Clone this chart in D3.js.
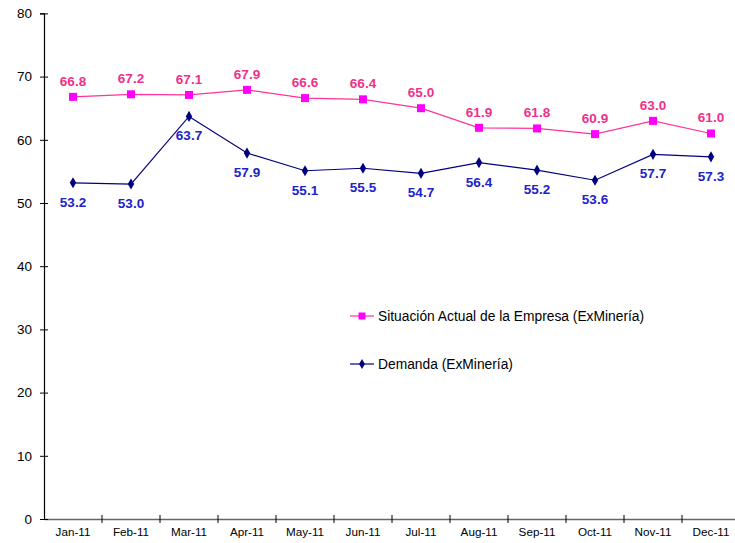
<!DOCTYPE html>
<html>
<head>
<meta charset="utf-8">
<script src="https://cdn.jsdelivr.net/npm/d3@7"></script>
<style>
  body { margin: 0; background: #fff; }
  svg { display: block; font-family: "Liberation Sans", Arial, sans-serif; }
</style>
</head>
<body>
<svg width="735" height="543"></svg>
<script>
var months = ["Jan-11", "Feb-11", "Mar-11", "Apr-11", "May-11", "Jun-11",
  "Jul-11", "Aug-11", "Sep-11", "Oct-11", "Nov-11", "Dec-11"];
var situacion = [66.8, 67.2, 67.1, 67.9, 66.6, 66.4, 65.0, 61.9, 61.8, 60.9, 63.0, 61.0];
var demanda = [53.2, 53.0, 63.7, 57.9, 55.1, 55.5, 54.7, 56.4, 55.2, 53.6, 57.7, 57.3];
var yTicks = [0, 10, 20, 30, 40, 50, 60, 70, 80];

var svg = d3.select("svg");

var x = d3.scaleBand().domain(months).range([44, 740]);
var y = d3.scaleLinear().domain([0, 80]).range([519, 13.4]);

function cx(i) { return x(months[i]) + x.bandwidth() / 2; }

// x axis
var xAxis = svg.append("g")
  .attr("transform", "translate(0," + y(0) + ")")
  .call(d3.axisBottom(x).tickSize(0).tickPadding(9));
xAxis.select(".domain").attr("stroke", "#666").attr("stroke-width", 1.5);
xAxis.selectAll("text").attr("font-size", 11.7).attr("fill", "#000")
  .attr("font-family", "Liberation Sans, Arial, sans-serif");
xAxis.selectAll(".sep")
  .data(months.slice(1))
  .enter().append("line")
  .attr("x1", function (d) { return x(d); })
  .attr("x2", function (d) { return x(d); })
  .attr("y1", -4).attr("y2", 4)
  .attr("stroke", "#000");

// y axis
var yAxis = svg.append("g")
  .attr("transform", "translate(44,0)")
  .call(d3.axisLeft(y).tickValues(yTicks).tickSize(4).tickPadding(8));
yAxis.select(".domain").attr("stroke", "#000").attr("stroke-width", 1.2);
yAxis.selectAll(".tick line").attr("stroke", "#000").attr("x2", 4).attr("x1", -4);
yAxis.selectAll("text").attr("font-size", 13.5).attr("fill", "#000")
  .attr("font-family", "Liberation Sans, Arial, sans-serif");

var line = d3.line()
  .x(function (d, i) { return cx(i); })
  .y(function (d) { return y(d); });

// Situacion series
svg.append("path")
  .datum(situacion)
  .attr("d", line)
  .attr("fill", "none")
  .attr("stroke", "#FF3399")
  .attr("stroke-width", 1.2);

svg.append("g").selectAll("rect")
  .data(situacion)
  .enter().append("rect")
  .attr("x", function (d, i) { return cx(i) - 4; })
  .attr("y", function (d) { return y(d) - 4; })
  .attr("width", 8).attr("height", 8)
  .attr("fill", "#FF00FF");

svg.append("g").selectAll("text")
  .data(situacion)
  .enter().append("text")
  .attr("x", function (d, i) { return cx(i); })
  .attr("y", function (d) { return y(d) - 11; })
  .attr("text-anchor", "middle")
  .attr("font-size", 13.5).attr("font-weight", "bold")
  .attr("fill", "#F0308A")
  .text(function (d) { return d.toFixed(1); });

// Demanda series
svg.append("path")
  .datum(demanda)
  .attr("d", line)
  .attr("fill", "none")
  .attr("stroke", "#000080")
  .attr("stroke-width", 1.2);

var diamond = d3.symbol().type(d3.symbolDiamond).size(36);
svg.append("g").selectAll("path")
  .data(demanda)
  .enter().append("path")
  .attr("d", diamond)
  .attr("transform", function (d, i) { return "translate(" + cx(i) + "," + y(d) + ")"; })
  .attr("fill", "#000080");

svg.append("g").selectAll("text")
  .data(demanda)
  .enter().append("text")
  .attr("x", function (d, i) { return cx(i); })
  .attr("y", function (d) { return y(d) + 24; })
  .attr("text-anchor", "middle")
  .attr("font-size", 13.5).attr("font-weight", "bold")
  .attr("fill", "#2121CC")
  .text(function (d) { return d.toFixed(1); });

// legend
var legend = [
  { name: "Situación Actual de la Empresa (ExMinería)", color: "#FF3399", marker: "#FF00FF", square: true, y: 316 },
  { name: "Demanda (ExMinería)", color: "#000080", marker: "#000080", square: false, y: 364 }
];
var lg = svg.append("g").selectAll("g")
  .data(legend)
  .enter().append("g")
  .attr("transform", function (d) { return "translate(350," + d.y + ")"; });
lg.append("line")
  .attr("x1", 0).attr("x2", 24)
  .attr("stroke", function (d) { return d.color; })
  .attr("stroke-width", 1.2);
lg.append("path")
  .attr("d", function (d) {
    return d.square ? d3.symbol().type(d3.symbolSquare).size(49)() : d3.symbol().type(d3.symbolDiamond).size(30)();
  })
  .attr("transform", "translate(12,0)")
  .attr("fill", function (d) { return d.marker; });
lg.append("text")
  .attr("x", 28).attr("y", 5)
  .attr("font-size", 13.8)
  .attr("fill", "#000")
  .text(function (d) { return d.name; });
</script>
</body>
</html>
